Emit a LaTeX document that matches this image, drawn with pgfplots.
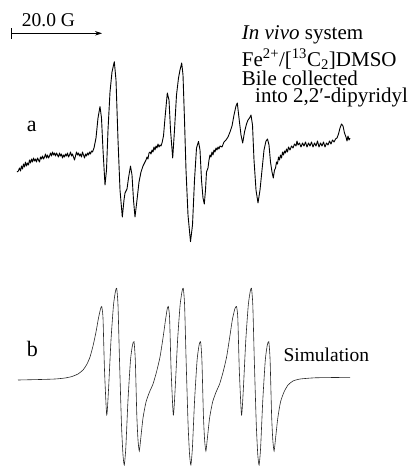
\documentclass[border=0pt]{standalone}
\usepackage{pgfplots}
\pgfplotsset{compat=1.18}
\usepackage{fontspec}
\setmainfont{Liberation Serif}
\usetikzlibrary{arrows.meta}
\begin{document}
\begin{tikzpicture}
\path[use as bounding box] (0,0) rectangle (414pt,466pt);
\begin{axis}[at={(0,0)},anchor=south west,
  width=414pt,height=466pt,scale only axis,
  xmin=0,xmax=414,ymin=0,ymax=466,y dir=reverse,
  axis lines=none,clip=false]
% experimental spectrum (a)
\addplot[black,line width=0.9pt,line join=round] coordinates {
(17,172)(18.3,171)(19.5,168)(20.5,171)(21.5,166)(22.5,169)(23.5,164)(24.5,167)(25.5,162)(26.5,166)(27.5,163)(28.5,165)(29.5,160)(30.5,163)(31.5,159)(32.5,162)(33.5,158)(34.5,161)(35.5,159)(36.5,162)(37.5,158)(38.5,160)(39.5,162)(40.5,157)(41.5,159)(42.5,156)(43.5,159)(44.5,157)(45.5,154)(46.5,158)(47.5,155)(48.5,158)(49.5,156)(50.5,153)(51.5,156)(52.5,152)(53.5,155)(54.5,153)(55.5,156)(56.5,153)(57.5,155)(58.5,157)(59.5,153)(60.5,156)(61.5,154)(62.5,158)(63.5,155)(64.5,157)(65.5,154)(66.5,156)(67.5,153)(68.5,157)(69.5,155)(70.5,152)(71.5,156)(72.5,154)(73.5,157)(74.5,160)(75.5,156)(76.5,152)(77.5,155)(78.5,153)(79.5,156)(80.5,154)(81.5,157)(82.5,152)(83.5,155)(84.5,158)(85.5,154)(86.5,156)(87.5,153)(88.5,155)(89.5,152)(90.5,154)(91.5,151)(92.5,152)(94,148)(96,138)(98,118)(100,106.5)(101.5,118)(103,150)(105,185)(106.5,170)(108,130)(110,92)(112,72)(114.3,61.7)(116,80)(118,140)(120,190)(122.3,217)(124,200)(125,193)(127,189)(128.5,178)(130.5,166)(132,175)(133.5,200)(135,217)(137,200)(139,182)(141,172)(143,166)(145,162)(146,160)(147,157)(148,159)(149,153)(150,152)(151,154)(152,150)(153,152)(154,147)(155,150)(156,146)(157,148)(158,144)(159,147)(160,145)(161,146)(162,143)(163.5,136)(165,118)(167.3,93)(169,100)(170.5,130)(172.7,158)(174.5,130)(176.5,95)(178.5,78)(180,70)(181.7,63)(183,75)(184.5,120)(186,170)(188,215)(190.5,241.7)(192.5,225)(194.5,180)(196.5,148)(198.5,141.5)(200,150)(201.5,180)(203,198)(204.3,204)(205.5,190)(206.5,172)(208,168)(209,160)(210,155)(211,157)(212,152)(213,155)(214,150)(215,152)(216,148)(217,150)(218,147)(219,149)(220,146)(222,147)(224,142)(226,140)(228,137)(230,132)(232,126)(234,115)(236,106)(237.3,103)(239,118)(241,135)(242.7,143)(244.5,132)(246.5,124)(248,120)(249.5,118)(251,115)(252.5,125)(254,160)(256,190)(258,203)(260,190)(262,170)(264,150)(266,141)(267.5,139)(269,145)(270.5,162)(272,172)(273.3,178)(274.5,170)(275.5,168)(276.5,162)(277.5,164)(278.5,157)(279.5,160)(280.5,155)(281.5,158)(282.5,152)(283.5,155)(284.5,151)(285.5,153)(286.5,149)(287.5,152)(288.5,147)(290,150)(291.5,146)(293,148)(294.5,144)(296,146)(297,141)(298,145)(299.5,143)(301,147)(302.5,143)(304,146)(305.5,142)(307,147)(308.5,143)(310,146)(311.5,142)(313,147)(314.5,143)(316,146)(317.5,141)(319,147)(320.5,143)(322,146)(323.5,142)(325,147)(326.5,143)(328,145)(329.5,141)(331,144)(332.5,140)(334,142)(335.5,139)(337,138)(338.5,134)(340,128)(341.5,124)(343,126)(344.5,133)(346,137)(347,141)(348,136)(349,140)(350,138)
};
% simulated spectrum (b)
\addplot[black!85,line width=0.6pt,smooth,tension=0.35] coordinates {
(18,380)(40,379.5)(55,379)(65,378)(72,376.5)(78,374)(83,370)(87,364)(90,357)(93,346)(96,332)(98.5,318)(100.5,309)(101.7,306.5)(103,318)(104.5,370)(106.7,415)(108.5,390)(111,340)(113.5,305)(115.5,291)(116.7,288.3)(118,305)(119.5,360)(121.5,425)(123,455)(124.3,465)(125.8,448)(128,400)(130.5,360)(132.5,345)(134,341.7)(135.3,360)(136.8,415)(138,440)(139.3,451)(140.8,438)(143,418)(146,402)(149.5,392)(153,384)(156.5,372)(160,357)(163,338)(165.5,320)(167.2,309)
(168.3,306.5)(169.6,318)(171.1,370)(173.3,415)(175.1,390)(177.6,340)(180.1,305)(182.1,291)(183.3,288.3)(184.6,305)(186.1,360)(188.1,425)(189.6,455)(190.9,465)(192.4,448)(194.6,400)(197.1,360)(199.1,345)(200.6,341.7)(201.9,360)(203.4,415)(204.6,440)(205.9,451)(207.4,438)(209.6,418)(212.6,402)(216.1,392)(219.6,384)(223.1,372)(226.6,357)(229.6,338)(232.3,320)(234.8,309)
(236.5,306.5)(237.8,318)(239.3,370)(241.5,415)(243.3,390)(245.8,340)(248.3,305)(250.3,291)(251.5,288.3)(252.8,305)(254.3,360)(256.3,425)(257.8,455)(259.1,465)(260.6,448)(262.8,400)(265.3,360)(267.3,345)(268.8,341.7)(270.1,360)(271.6,415)(272.8,440)(274.1,451)(275.6,438)(277.8,418)(280.5,402)(284,392)(288,385)(293,381)(300,379)(315,377.8)(335,377.5)(350,377.3)
};
% annotations
\draw[line width=0.8pt,-{Stealth[length=7pt,width=4.5pt]}] (axis cs:11.7,33.3) -- (axis cs:102,33.3);
\draw[line width=0.8pt] (axis cs:11.7,28.3) -- (axis cs:11.7,39.3);
\node[anchor=base west,inner sep=0pt,font=\fontsize{19.5}{22}\selectfont] at (axis cs:21.7,26.5) {20.0 G};
\node[anchor=base west,inner sep=0pt,font=\fontsize{21}{24}\selectfont] at (axis cs:241.7,39.5) {\textit{In vivo} system};
\node[anchor=base west,inner sep=0pt,font=\fontsize{21}{24}\selectfont] at (axis cs:241.7,66.5) {Fe\textsuperscript{2+}/[\textsuperscript{13}C\textsubscript{2}]DMSO};
\node[anchor=base west,inner sep=0pt,font=\fontsize{21}{24}\selectfont] at (axis cs:241.7,85.5) {Bile collected};
\node[anchor=base west,inner sep=0pt,font=\fontsize{21}{24}\selectfont] at (axis cs:255,102) {into 2,2′-dipyridyl};
\node[anchor=base west,inner sep=0pt,font=\fontsize{22}{26}\selectfont] at (axis cs:26.7,131.7) {a};
\node[anchor=base west,inner sep=0pt,font=\fontsize{22}{26}\selectfont] at (axis cs:26.7,356.7) {b};
\node[anchor=base west,inner sep=0pt,font=\fontsize{19.5}{22}\selectfont] at (axis cs:283.3,361.7) {Simulation};
\end{axis}
\end{tikzpicture}
\end{document}
